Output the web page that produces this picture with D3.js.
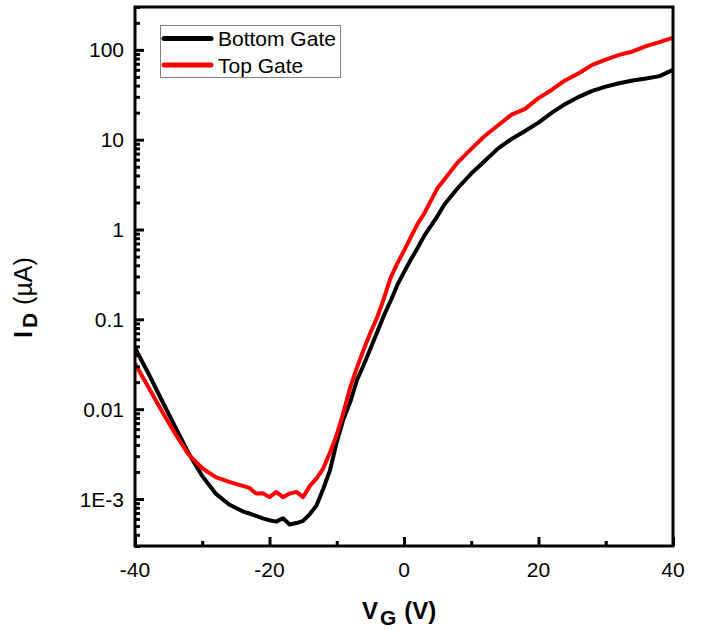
<!DOCTYPE html>
<html>
<head>
<meta charset="utf-8">
<script src="https://cdn.jsdelivr.net/npm/d3@7/dist/d3.min.js"></script>
<style>
  html, body { margin: 0; padding: 0; background: #fff; }
  svg { display: block; font-family: "Liberation Sans", Arial, sans-serif; }
</style>
</head>
<body>
<svg id="chart" width="704" height="630"></svg>
<script>
// Transfer curves: drain current vs gate voltage
const gateVoltage = [-40, -38, -36, -34, -32, -30, -28, -26, -24, -23, -22, -21, -20, -19, -18, -17, -16, -15, -14, -13, -12, -11, -10, -9, -8, -7, -6, -5, -4, -3, -2, -1, 0, 1, 2, 3, 4, 5, 6, 8, 10, 12, 14, 16, 18, 20, 22, 24, 26, 28, 30, 32, 34, 36, 38, 40];

const bottomGate = [0.048, 0.025, 0.0125, 0.0063, 0.0032, 0.0018, 0.00115, 0.00087, 0.00073, 0.00069, 0.00065, 0.00061, 0.00058, 0.00056, 0.00061, 0.00052, 0.00054, 0.00057, 0.00068, 0.00085, 0.0013, 0.0021, 0.0043, 0.0078, 0.012, 0.021, 0.031, 0.047, 0.072, 0.11, 0.16, 0.24, 0.335, 0.46, 0.62, 0.85, 1.1, 1.42, 1.9, 2.9, 4.2, 5.8, 8.0, 10.2, 12.5, 15.5, 20, 25, 30, 35, 39, 42.5, 45.5, 48, 51, 60];

const topGate = [0.032, 0.0175, 0.0095, 0.0053, 0.0031, 0.0022, 0.00175, 0.00155, 0.0014, 0.00133, 0.00115, 0.00116, 0.00105, 0.0012, 0.00105, 0.00115, 0.0012, 0.00105, 0.0014, 0.0017, 0.0022, 0.0033, 0.0052, 0.0092, 0.0175, 0.029, 0.046, 0.071, 0.105, 0.17, 0.29, 0.42, 0.58, 0.82, 1.15, 1.5, 2.1, 2.9, 3.6, 5.6, 7.9, 11, 14.5, 19, 22, 29, 36, 46, 55, 68, 78, 88, 96, 110, 122, 137];

const xMajorTicks = [-40, -20, 0, 20, 40];
const xMinorTicks = [-30, -10, 10, 30];
const yMajorTicks = [1e-3, 0.01, 0.1, 1, 10, 100];
const yTickLabels = ["1E-3", "0.01", "0.1", "1", "10", "100"];

const seriesNames = ["Bottom Gate", "Top Gate"];
const seriesColors = ["#000000", "#ff0000"];

const svg = d3.select("#chart");
const plotLeft = 135, plotRight = 673, plotTop = 7, plotBottom = 546;

const x = d3.scaleLinear().domain([-40, 40]).range([plotLeft, plotRight]);
const y = d3.scaleLog().domain([3e-4, 300]).range([plotBottom, plotTop]);

// minor log ticks: 2..9 of every decade inside the domain
const yMinorTicks = [];
for (let e = -4; e <= 2; e++) {
  for (let m = 2; m <= 9; m++) {
    const v = m * Math.pow(10, e);
    if (v >= 3e-4 && v <= 300) yMinorTicks.push(v);
  }
}

svg.append("defs").append("clipPath").attr("id", "plotClip")
  .append("rect").attr("x", plotLeft).attr("y", plotTop)
  .attr("width", plotRight - plotLeft).attr("height", plotBottom - plotTop);

// curves
const line = d3.line().x(d => x(d[0])).y(d => y(d[1]));
const series = [bottomGate, topGate];
series.forEach((vals, i) => {
  svg.append("path")
    .datum(gateVoltage.map((v, k) => [v, vals[k]]))
    .attr("clip-path", "url(#plotClip)")
    .attr("fill", "none")
    .attr("stroke", seriesColors[i])
    .attr("stroke-width", 4)
    .attr("stroke-linejoin", "round")
    .attr("d", line);
});

// left axis (ticks pointing inward)
const styleTicks = g => {
  g.select(".domain").remove();
  g.selectAll("line").attr("stroke", "#000").attr("stroke-width", 3);
};
svg.append("g").attr("transform", `translate(${plotLeft},0)`)
  .call(d3.axisRight(y).tickValues(yMajorTicks).tickSize(9).tickFormat(""))
  .call(styleTicks);
svg.append("g").attr("transform", `translate(${plotLeft},0)`)
  .call(d3.axisRight(y).tickValues(yMinorTicks).tickSize(5).tickFormat(""))
  .call(styleTicks);

svg.append("g").selectAll("text").data(yMajorTicks).join("text")
  .attr("x", 124).attr("y", d => y(d)).attr("dy", "0.36em")
  .attr("text-anchor", "end").attr("font-size", 21).attr("fill", "#000")
  .text((d, i) => yTickLabels[i]);

// bottom axis (ticks pointing inward)
svg.append("g").attr("transform", `translate(0,${plotBottom})`)
  .call(d3.axisTop(x).tickValues(xMajorTicks).tickSize(9).tickFormat(""))
  .call(styleTicks);
svg.append("g").attr("transform", `translate(0,${plotBottom})`)
  .call(d3.axisTop(x).tickValues(xMinorTicks).tickSize(5).tickFormat(""))
  .call(styleTicks);

svg.append("g").selectAll("text").data(xMajorTicks).join("text")
  .attr("x", d => x(d)).attr("y", 577)
  .attr("text-anchor", "middle").attr("font-size", 21).attr("fill", "#000")
  .text(d => d);

// frame
svg.append("rect")
  .attr("x", plotLeft).attr("y", plotTop)
  .attr("width", plotRight - plotLeft).attr("height", plotBottom - plotTop)
  .attr("fill", "none").attr("stroke", "#000").attr("stroke-width", 3);

// axis titles
const xt = svg.append("text").attr("x", 362).attr("y", 619)
  .attr("font-size", 24).attr("font-weight", "bold").attr("fill", "#000");
xt.append("tspan").text("V");
xt.append("tspan").attr("font-size", 21).attr("dx", 2).attr("dy", 6).text("G");
xt.append("tspan").attr("dy", -6).attr("dx", 8).text("(V)");

const yt = svg.append("text")
  .attr("transform", "translate(32,338) rotate(-90)")
  .attr("font-size", 25).attr("font-weight", "bold").attr("fill", "#000");
yt.append("tspan").text("I");
yt.append("tspan").attr("font-size", 21).attr("dx", 3).attr("dy", 5).text("D");
yt.append("tspan").attr("dy", -5).attr("dx", 8).attr("font-weight", "normal").attr("font-size", 25).text("(µA)");

// legend
const lg = svg.append("g");
lg.append("rect").attr("x", 160.5).attr("y", 25.5).attr("width", 180).attr("height", 52)
  .attr("fill", "#fff").attr("stroke", "#808080").attr("stroke-width", 1);
seriesNames.forEach((name, i) => {
  const ly = 38.5 + i * 26.5;
  lg.append("line").attr("x1", 164).attr("x2", 211).attr("y1", ly).attr("y2", ly)
    .attr("stroke", seriesColors[i]).attr("stroke-width", 5).attr("stroke-linecap", "round");
  lg.append("text").attr("x", 218).attr("y", ly + 7.5)
    .attr("font-size", 21).attr("fill", "#000").text(name);
});
</script>
</body>
</html>
